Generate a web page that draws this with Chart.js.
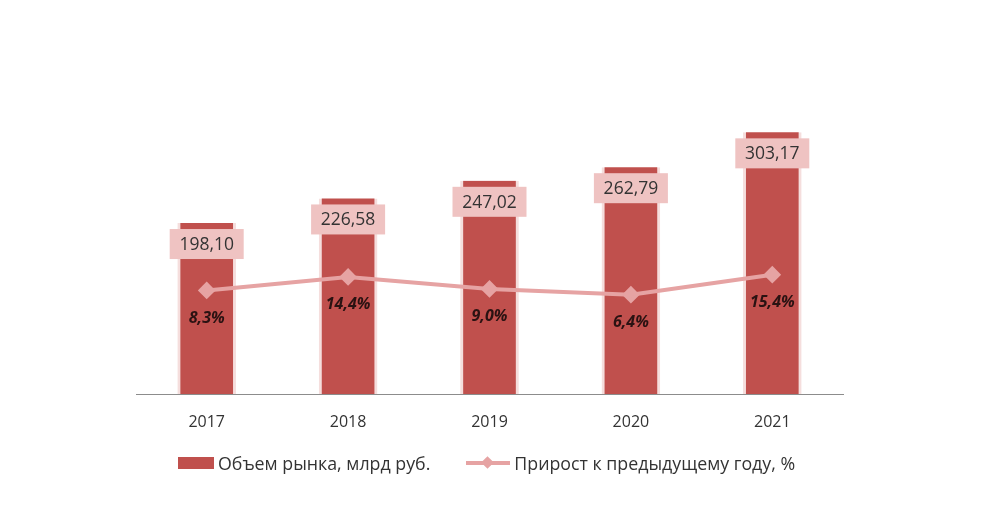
<!DOCTYPE html>
<html>
<head>
<meta charset="utf-8">
<script src="https://cdn.jsdelivr.net/npm/chart.js@4"></script>
<style>
  body { margin: 0; background: #fff; font-family: "Open Sans", sans-serif; }
  #wrap { position: relative; width: 1000px; height: 510px; }
  #legend { position: absolute; top: 451px; left: 178px; display: flex; align-items: center; font-size: 17.8px; color: #333; }
  .item { display: flex; align-items: center; }
  .box { width: 36px; height: 12px; background: #c0504d; margin-right: 4px; }
  .lineKey { position: relative; width: 44px; height: 12px; margin-right: 4px; }
  .lineKey .ln { position: absolute; top: 4px; left: 0; width: 44px; height: 4px; background: #e6a3a3; }
  .lineKey .dm { position: absolute; top: 1px; left: 17px; width: 9px; height: 9px; background: #e6a3a3; transform: rotate(45deg); }
</style>
</head>
<body>
<div id="wrap">
  <canvas id="chart" width="1000" height="510"></canvas>
  <div id="legend">
    <div class="item"><div class="box"></div>Объем рынка, млрд руб.</div>
    <div class="item" style="margin-left:36px"><div class="lineKey"><div class="ln"></div><div class="dm"></div></div>Прирост к предыдущему году, %</div>
  </div>
</div>
<script>
const years = ['2017', '2018', '2019', '2020', '2021'];
const marketVolume = [198.10, 226.58, 247.02, 262.79, 303.17];
const growthPct = [8.3, 14.4, 9.0, 6.4, 15.4];

const fmt = (v, d) => v.toFixed(d).replace('.', ',');

// value boxes and percent labels
const labelPlugin = {
  id: 'labels',
  afterDatasetsDraw(chart) {
    const ctx = chart.ctx;
    const bars = chart.getDatasetMeta(1).data;
    const pts = chart.getDatasetMeta(0).data;
    ctx.save();
    ctx.textAlign = 'center';
    ctx.textBaseline = 'middle';
    bars.forEach((bar, i) => {
      const w = 74, h = 30;
      const top = bar.y + 6;
      ctx.fillStyle = '#efc3c2';
      ctx.fillRect(bar.x - w / 2, top, w, h);
      ctx.fillStyle = '#333';
      ctx.font = '17.5px "Open Sans", sans-serif';
      ctx.fillText(fmt(marketVolume[i], 2), bar.x, top + h / 2 + 1);
    });
    pts.forEach((p, i) => {
      ctx.fillStyle = '#2a1212';
      ctx.font = 'italic bold 16px "Open Sans", sans-serif';
      ctx.fillText(fmt(growthPct[i], 1) + '%', p.x, p.y + 28);
    });
    ctx.restore();
  }
};

new Chart(document.getElementById('chart'), {
  data: {
    labels: years,
    datasets: [
      {
        type: 'line',
        label: 'Прирост к предыдущему году, %',
        data: growthPct,
        yAxisID: 'y2',
        borderColor: '#e6a3a3',
        borderWidth: 4,
        pointStyle: 'rectRot',
        pointRadius: 6,
        pointBackgroundColor: '#e6a3a3',
        pointBorderColor: '#e6a3a3',
        tension: 0,
        order: 0
      },
      {
        type: 'bar',
        label: 'Объем рынка, млрд руб.',
        data: marketVolume,
        backgroundColor: '#c0504d',
        borderColor: '#f5dedd',
        borderWidth: { left: 3, right: 3, top: 0, bottom: 0 },
        borderSkipped: false,
        barThickness: 58,
        order: 1
      }
    ]
  },
  options: {
    responsive: false,
    animation: false,
    layout: { padding: { top: 60, left: 136, right: 157, bottom: 0 } },
    plugins: { legend: { display: false }, tooltip: { enabled: false } },
    scales: {
      x: {
        grid: { display: false, drawTicks: false },
        border: { display: true, color: '#8c8c8c', width: 1 },
        ticks: { color: '#333', font: { size: 16, family: '"Open Sans", sans-serif' }, padding: 19 },
        afterFit(axis) { axis.height = 116; }
      },
      y: { display: false, min: 0, max: 387 },
      y2: { display: false, min: -38.3, max: 112 }
    }
  },
  plugins: [labelPlugin]
});
</script>
</body>
</html>
